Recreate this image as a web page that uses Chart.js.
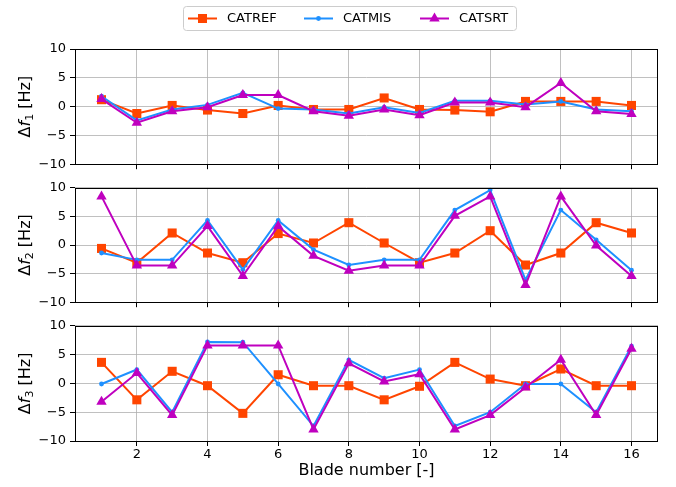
<!DOCTYPE html>
<html>
<head>
<meta charset="utf-8">
<script src="https://cdn.jsdelivr.net/npm/chart.js@4.4.1/dist/chart.umd.min.js"></script>
<style>
  html, body { margin: 0; padding: 0; background: #fff; }
  #wrap { position: relative; width: 676px; height: 487px; background: #fff; }
  canvas { position: absolute; left: 0; }
</style>
</head>
<body>
<div id="wrap">
  <canvas id="c1" width="676" height="176" style="top:0px"></canvas>
  <canvas id="c2" width="676" height="138" style="top:176px"></canvas>
  <canvas id="c3" width="676" height="173" style="top:314px"></canvas>
</div>
<script>
// Blade numbers and frequency deviations (Hz) per mode
const blades = [1, 2, 3, 4, 5, 6, 7, 8, 9, 10, 11, 12, 13, 14, 15, 16];
const xTicks = [2, 4, 6, 8, 10, 12, 14, 16];
const yTicks = [-10, -5, 0, 5, 10];
const seriesNames = ['CATREF', 'CATMIS', 'CATSRT'];

const f1Ref = [1.2, -1.2, 0.2, -0.6, -1.2, 0.2, -0.5, -0.5, 1.5, -0.5, -0.6, -0.9, 0.9, 0.9, 0.9, 0.2];
const f1Mis = [1.8, -2.4, -0.5, 0.3, 2.4, -0.35, -0.5, -1.2, -0.1, -1.1, 1.0, 1.0, 0.35, 0.9, -0.5, -0.8];
const f1Srt = [1.3, -2.8, -0.8, -0.1, 2.0, 2.0, -0.8, -1.6, -0.5, -1.5, 0.7, 0.7, -0.1, 4.1, -0.8, -1.3];

const f2Ref = [-0.6, -3.1, 2.1, -1.4, -3.1, 2.0, 0.35, 3.9, 0.35, -3.1, -1.4, 2.5, -3.5, -1.4, 3.9, 2.1];
const f2Mis = [-1.4, -2.6, -2.6, 4.3, -4.3, 4.3, -0.8, -3.5, -2.6, -2.6, 6.1, 9.6, -6.1, 6.1, 0.9, -4.4];
const f2Srt = [8.5, -3.6, -3.6, 3.3, -5.4, 3.3, -1.9, -4.5, -3.6, -3.6, 5.1, 8.5, -7.0, 8.5, -0.1, -5.4];

const f3Ref = [3.65, -2.85, 2.1, -0.4, -5.2, 1.5, -0.4, -0.4, -2.85, -0.5, 3.65, 0.75, -0.4, 2.5, -0.4, -0.4];
const f3Mis = [-0.1, 2.4, -5.0, 7.2, 7.15, -0.1, -7.4, 4.1, 0.9, 2.4, -7.4, -5.0, -0.1, -0.1, -5.0, 6.45];
const f3Srt = [-3.2, 1.8, -5.5, 6.6, 6.6, 6.6, -8.0, 3.5, 0.35, 1.6, -8.0, -5.5, -0.7, 4.1, -5.5, 6.0];

const FONT = "'DejaVu Sans', 'Liberation Sans', sans-serif";
const styles = [
  { color: '#ff4500', point: 'rect', radius: 6.4, order: 2 },
  { color: '#1e90ff', point: 'circle', radius: 2.4, order: 1 },
  { color: '#bf00bf', point: 'triangle', radius: 6.0, order: 0 }
];

function pts(vals) { return blades.map((b, i) => ({ x: b, y: vals[i] })); }

function drawMarker(ctx, style, x, y) {
  ctx.save();
  ctx.fillStyle = style.color;
  ctx.beginPath();
  if (style.point === 'rect') {
    const s = Math.SQRT1_2 * style.radius;
    ctx.rect(x - s, y - s, 2 * s, 2 * s);
  } else if (style.point === 'circle') {
    ctx.arc(x, y, style.radius, 0, Math.PI * 2);
  } else {
    const r = style.radius;
    ctx.moveTo(x, y - r);
    ctx.lineTo(x + r * Math.sin(Math.PI / 3), y + r / 2);
    ctx.lineTo(x - r * Math.sin(Math.PI / 3), y + r / 2);
    ctx.closePath();
  }
  ctx.fill();
  ctx.restore();
}

// Frame around the plot area, drawn above the lines like axis spines
const framePlugin = {
  id: 'frame',
  afterDatasetsDraw(chart) {
    const { ctx, chartArea: a } = chart;
    ctx.save();
    ctx.strokeStyle = '#000';
    ctx.lineWidth = 1;
    ctx.strokeRect(Math.round(a.left) + 0.5, Math.round(a.top) + 0.5,
                   Math.round(a.right - a.left) - 1, Math.round(a.bottom - a.top));
    ctx.restore();
  }
};

// Rotated y-axis label with an italic symbol and subscript
const yLabelPlugin = {
  id: 'ylabel',
  afterDraw(chart, args, opts) {
    const { ctx, chartArea: a } = chart;
    const parts = [
      { t: '\u0394', f: '16px ' + FONT, dy: 0 },
      { t: 'f', f: 'italic 16px ' + FONT, dy: 0 },
      { t: opts.sub, f: '11px ' + FONT, dy: 3.5 },
      { t: ' [Hz]', f: '16px ' + FONT, dy: 0 }
    ];
    ctx.save();
    let w = 0;
    parts.forEach(p => { ctx.font = p.f; p.w = ctx.measureText(p.t).width; w += p.w; });
    ctx.translate(24, (a.top + a.bottom) / 2);
    ctx.rotate(-Math.PI / 2);
    ctx.fillStyle = '#000';
    ctx.textBaseline = 'alphabetic';
    let x = -w / 2;
    parts.forEach(p => { ctx.font = p.f; ctx.fillText(p.t, x, 5.8 + p.dy); x += p.w; });
    ctx.restore();
  }
};

// Legend box above the first panel
const legendPlugin = {
  id: 'topLegend',
  afterDraw(chart, args, opts) {
    if (!opts.show) return;
    const { ctx } = chart;
    ctx.save();
    const bx = 183.5, by = 6.5, bw = 333, bh = 24, r = 3;
    ctx.beginPath();
    ctx.moveTo(bx + r, by);
    ctx.arcTo(bx + bw, by, bx + bw, by + bh, r);
    ctx.arcTo(bx + bw, by + bh, bx, by + bh, r);
    ctx.arcTo(bx, by + bh, bx, by, r);
    ctx.arcTo(bx, by, bx + bw, by, r);
    ctx.closePath();
    ctx.fillStyle = 'rgba(255,255,255,0.8)';
    ctx.fill();
    ctx.strokeStyle = '#cccccc';
    ctx.lineWidth = 1;
    ctx.stroke();
    const starts = [188, 304, 420];
    const cy = 18.5;
    styles.forEach((s, i) => {
      const x0 = starts[i];
      ctx.strokeStyle = s.color;
      ctx.lineWidth = 2;
      ctx.beginPath();
      ctx.moveTo(x0, cy);
      ctx.lineTo(x0 + 29, cy);
      ctx.stroke();
      drawMarker(ctx, s, x0 + 14.5, cy);
      ctx.fillStyle = '#000';
      ctx.font = '13px ' + FONT;
      ctx.textBaseline = 'middle';
      ctx.fillText(seriesNames[i], x0 + 39, cy + 0.5);
    });
    ctx.restore();
  }
};

// x-axis title under the last panel
const xTitlePlugin = {
  id: 'xtitle',
  afterDraw(chart, args, opts) {
    if (!opts.show) return;
    const { ctx, chartArea: a } = chart;
    ctx.save();
    ctx.fillStyle = '#000';
    ctx.font = '16px ' + FONT;
    ctx.textAlign = 'center';
    ctx.textBaseline = 'middle';
    ctx.fillText('Blade number [-]', (a.left + a.right) / 2, a.bottom + 30);
    ctx.restore();
  }
};

function makePanel(id, vals, sub, padTop, xHeight, showXLabels, showLegend) {
  const datasets = vals.map((v, i) => ({
    label: seriesNames[i],
    data: pts(v),
    borderColor: styles[i].color,
    backgroundColor: styles[i].color,
    borderWidth: 2,
    pointStyle: styles[i].point,
    pointRadius: styles[i].radius,
    pointHoverRadius: styles[i].radius,
    pointBorderWidth: 0,
    tension: 0,
    order: styles[i].order,
    clip: false
  }));
  return new Chart(document.getElementById(id), {
    type: 'line',
    data: { datasets },
    options: {
      responsive: false,
      animation: false,
      devicePixelRatio: 1,
      events: [],
      layout: { autoPadding: false, padding: { left: 0, right: 18, top: padTop, bottom: 0 } },
      plugins: {
        legend: { display: false },
        tooltip: { enabled: false },
        ylabel: { sub },
        topLegend: { show: showLegend },
        xtitle: { show: showXLabels }
      },
      scales: {
        x: {
          type: 'linear',
          min: 0.25,
          max: 16.75,
          border: { display: false },
          grid: { color: '#b0b0b0', lineWidth: 0.8, drawTicks: true, tickLength: 5, tickColor: '#000', tickWidth: 1 },
          ticks: {
            display: showXLabels,
            color: '#000',
            font: { family: FONT, size: 13 },
            padding: 1,
            maxRotation: 0,
            autoSkip: false
          },
          afterBuildTicks(scale) { scale.ticks = xTicks.map(v => ({ value: v })); },
          afterFit(scale) { scale.height = xHeight; }
        },
        y: {
          type: 'linear',
          min: -10,
          max: 10,
          border: { display: false },
          grid: { color: '#b0b0b0', lineWidth: 0.8, drawTicks: true, tickLength: 5, tickColor: '#000', tickWidth: 1 },
          ticks: {
            color: '#000',
            font: { family: FONT, size: 13 },
            padding: 4,
            callback: v => (v < 0 ? '\u2212' + Math.abs(v) : String(v))
          },
          afterBuildTicks(scale) { scale.ticks = yTicks.map(v => ({ value: v })); },
          afterFit(scale) { scale.width = 75; }
        }
      }
    },
    plugins: [framePlugin, yLabelPlugin, legendPlugin, xTitlePlugin]
  });
}

makePanel('c1', [f1Ref, f1Mis, f1Srt], '1', 49, 11, false, true);
makePanel('c2', [f2Ref, f2Mis, f2Srt], '2', 11, 11, false, false);
makePanel('c3', [f3Ref, f3Mis, f3Srt], '3', 11, 46, true, false);
</script>
</body>
</html>
